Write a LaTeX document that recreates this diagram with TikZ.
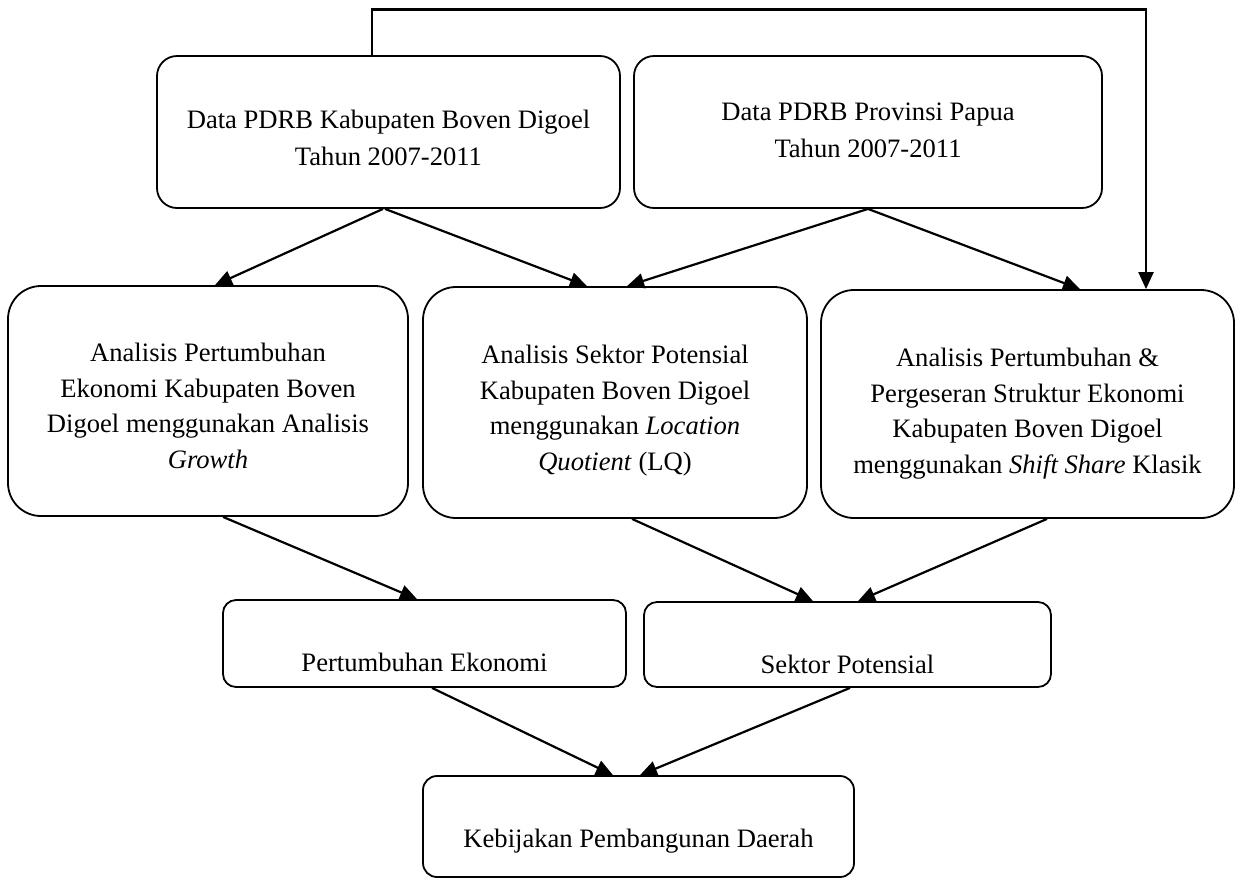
\documentclass[tikz,border=0pt]{standalone}
\usepackage{fontspec}
\setmainfont{Liberation Serif}
\usetikzlibrary{arrows.meta}
\begin{document}
\begin{tikzpicture}[x=1pt,y=-1pt,
  box/.style={draw, line width=1.8pt, rounded corners=#1, inner sep=0pt},
  txt/.style={align=center, inner sep=0pt, font=\fontsize{26.6}{35.5}\selectfont},
  txtb/.style={align=center, inner sep=0pt, font=\fontsize{26.6}{37}\selectfont},
  arr/.style={line width=2.2pt, -{Triangle[length=17pt,width=15pt]}}]
\useasboundingbox (0,0) rectangle (1241,879);
% boxes
\node[box=20pt, minimum width=463pt, minimum height=152pt] (b1) at (388.5,132) {};
\node[box=20pt, minimum width=468pt, minimum height=152pt] (b2) at (868,132) {};
\node[box=33pt, minimum width=400pt, minimum height=230pt] (b3) at (208,401) {};
\node[box=33pt, minimum width=384pt, minimum height=231pt] (b4) at (615,402.5) {};
\node[box=33pt, minimum width=413pt, minimum height=228pt] (b5) at (1027.5,404) {};
\node[box=13pt, minimum width=403pt, minimum height=87pt] (b6) at (424.5,643.5) {};
\node[box=13pt, minimum width=407pt, minimum height=85pt] (b7) at (847.5,644.5) {};
\node[box=14pt, minimum width=431pt, minimum height=101pt] (b8) at (638.5,826.5) {};
% texts (base anchor = baseline of the last line)
\node[txtb, anchor=base] (t1) at (388.5,165) {Data PDRB Kabupaten Boven Digoel\\Tahun 2007-2011};
\node[txtb, anchor=base] (t2) at (868,157) {Data PDRB Provinsi Papua\\Tahun 2007-2011};
\node[txt, anchor=base] (t3) at (208,468) {Analisis Pertumbuhan\\Ekonomi Kabupaten Boven\\Digoel menggunakan Analisis\\\textit{Growth}};
\node[txt, anchor=base] (t4) at (615,470) {Analisis Sektor Potensial\\Kabupaten Boven Digoel\\menggunakan \textit{Location}\\\textit{Quotient} (LQ)};
\node[txt, anchor=base] (t5) at (1027.5,473) {Analisis Pertumbuhan \&\\Pergeseran Struktur Ekonomi\\Kabupaten Boven Digoel\\menggunakan \textit{Shift Share} Klasik};
\node[txt, anchor=base] (t6) at (424.5,671) {Pertumbuhan Ekonomi};
\node[txt, anchor=base] (t7) at (847.5,673) {Sektor Potensial};
\node[txt, anchor=base] (t8) at (638.5,847) {Kebijakan Pembangunan Daerah};
% connectors
\coordinate (fbtop) at (1146,9.5);
\draw[arr] ([xshift=-5.5pt]b1.south) -- ([xshift=7pt]b3.north);
\draw[arr] ([xshift=-3.5pt]b1.south) -- ([xshift=-28pt]b4.north);
\draw[arr] (b2.south) -- ([xshift=12pt]b4.north);
\draw[arr] (b2.south) -- ([xshift=52.5pt]b5.north);
\draw[arr] ([xshift=-16.5pt]b1.north) |- (fbtop) -- ([xshift=118.5pt]b5.north);
\draw[arr] ([xshift=15pt]b3.south) -- ([xshift=-7.5pt]b6.north);
\draw[arr] ([xshift=17pt]b4.south) -- ([xshift=-34.5pt]b7.north);
\draw[arr] ([xshift=19.5pt]b5.south) -- ([xshift=10.5pt]b7.north);
\draw[arr] ([xshift=7.5pt]b6.south) -- ([xshift=-25.5pt]b8.north);
\draw[arr] ([xshift=2.5pt]b7.south) -- ([xshift=1.5pt]b8.north);
\end{tikzpicture}
\end{document}
